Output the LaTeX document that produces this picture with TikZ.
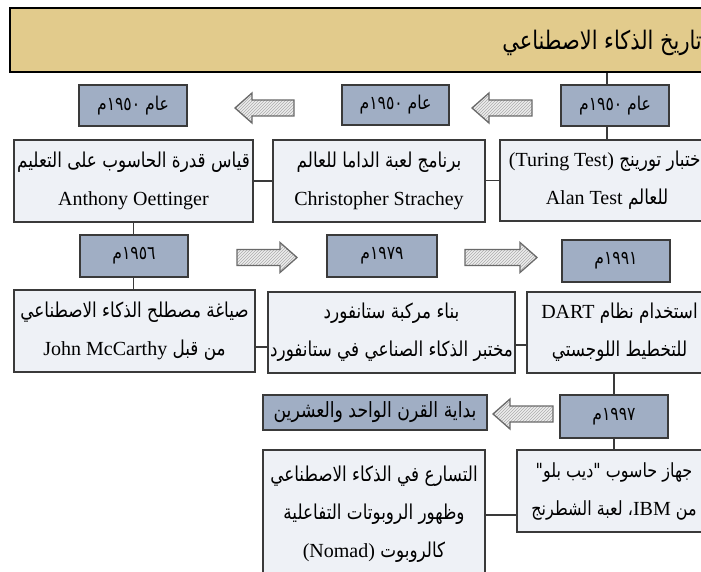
\documentclass[tikz,border=0pt]{standalone}
\usepackage{fontspec}
\setmainfont{Liberation Serif}
\newfontfamily\arfont[Script=Arabic, FakeStretch=0.82]{DejaVu Sans}
\TeXXeTstate=1
\usetikzlibrary{patterns}
\definecolor{titlefill}{HTML}{E2CB8C}
\definecolor{yearfill}{HTML}{A0AEC4}
\definecolor{descfill}{HTML}{EEF1F6}
\definecolor{edge}{HTML}{3A3A3A}
\definecolor{arrowedge}{HTML}{6A6A6A}
\newcommand\AR[1]{{\arfont\beginR #1\endR}}
\newcommand\LT[1]{{\rmfamily\fontsize{20}{38}\selectfont\beginL #1\endL}}
% left-pointing block arrow: tip x, tail x, centre y
\newcommand\blockL[3]{%
  \path[blockarrow] (#1,#3) -- ({#1+17},{#3-15}) -- ({#1+17},{#3-8}) -- (#2,{#3-8})
    -- (#2,{#3+8}) -- ({#1+17},{#3+8}) -- ({#1+17},{#3+15}) -- cycle;}
% right-pointing block arrow: tail x, tip x, centre y
\newcommand\blockR[3]{%
  \path[blockarrow] (#2,#3) -- ({#2-17},{#3-15}) -- ({#2-17},{#3-8}) -- (#1,{#3-8})
    -- (#1,{#3+8}) -- ({#2-17},{#3+8}) -- ({#2-17},{#3+15}) -- cycle;}
\tikzset{
  titlebar/.style={draw=black, line width=2.2pt, fill=titlefill},
  yearbox/.style={draw=edge, line width=1.4pt, fill=yearfill, inner sep=0pt,
    font=\fontsize{19}{22}\selectfont},
  descbox/.style={draw=edge, line width=1.4pt, fill=descfill, inner sep=0pt,
    align=center, font=\fontsize{20.5}{38}\selectfont},
  link/.style={draw=edge, line width=1.4pt},
  blockarrow/.style={draw=arrowedge, line width=1.3pt, line join=miter,
    preaction={fill=gray!14}, pattern=north east lines, pattern color=gray!65}
}
\begin{document}
\begin{tikzpicture}[x=1pt,y=-1pt]
\useasboundingbox (0,0) rectangle (701,572);
\clip (0,0) rectangle (701,572);
% title
\node[titlebar, minimum width=715pt, minimum height=64pt, inner sep=0pt] (title) at (367.5,40) {};
\node[anchor=east, inner sep=0pt, font=\fontsize{25.5}{28}\selectfont] (titletext) at (702,43) {\AR{تاريخ الذكاء الاصطناعي}};
% row 1 years
\node[yearbox, minimum width=108pt, minimum height=41pt] (a1) at (133,105.5) {\AR{عام ١٩٥٠م}};
\node[yearbox, minimum width=107pt, minimum height=40pt] (a2) at (395.5,105) {\AR{عام ١٩٥٠م}};
\node[yearbox, minimum width=108pt, minimum height=41pt] (a3) at (615,105.5) {\AR{عام ١٩٥٠م}};
\blockL{235}{294}{108}
\blockL{472}{532}{108}
% row 1 descriptions
\node[descbox, minimum width=239pt, minimum height=82pt] (b1) at (133.5,181)
  {\AR{قياس قدرة الحاسوب على التعليم}\\ \LT{Anthony Oettinger}};
\node[descbox, minimum width=212pt, minimum height=82pt] (b2) at (379,181)
  {\AR{برنامج  لعبة الداما للعالم}\\ \LT{Christopher Strachey}};
\node[descbox, minimum width=214pt, minimum height=81pt] (b3) at (607,180.5)
  {\AR{اختبار تورينج \LT{(Turing Test)}}\\ \AR{للعالم \LT{Alan Test}}};
% row 2 years
\node[yearbox, minimum width=108pt, minimum height=42pt] (c1) at (134,256) {\AR{١٩٥٦م}};
\node[yearbox, minimum width=110pt, minimum height=42pt] (c2) at (382,256) {\AR{١٩٧٩م}};
\node[yearbox, minimum width=108pt, minimum height=42pt] (c3) at (616,261) {\AR{١٩٩١م}};
\blockR{237}{297}{257.5}
\blockR{465}{537}{257.5}
% row 2 descriptions
\node[descbox, minimum width=241pt, minimum height=82pt] (d1) at (134.5,331)
  {\AR{صياغة مصطلح الذكاء الاصطناعي}\\ \AR{من قبل  \LT{John McCarthy}}};
\node[descbox, minimum width=247pt, minimum height=81pt] (d2) at (391.5,332.5)
  {\AR{بناء مركبة ستانفورد}\\ \AR{مختبر الذكاء الصناعي في ستانفورد}};
\node[descbox, minimum width=185pt, minimum height=81pt] (d3) at (619.5,332.5)
  {\AR{استخدام نظام \LT{DART}}\\ \AR{للتخطيط اللوجستي}};
% row 3
\node[yearbox, minimum width=224pt, minimum height=35pt, font=\fontsize{21}{24}\selectfont] (e1) at (375,412.5) {\AR{بداية القرن الواحد والعشرين}};
\node[yearbox, minimum width=108pt, minimum height=43pt] (e2) at (614,416.5) {\AR{١٩٩٧م}};
\blockL{493}{553}{414}
\node[descbox, minimum width=222pt, minimum height=128pt] (f1) at (374,514)
  {\AR{التسارع في الذكاء الاصطناعي}\\ \AR{وظهور الروبوتات التفاعلية}\\ \AR{كالروبوت \LT{(Nomad)}}};
\node[descbox, minimum width=194pt, minimum height=82pt, font=\fontsize{19.5}{38}\selectfont] (f2) at (614,491)
  {\AR{جهاز حاسوب "ديب بلو"}\\ \AR{من \LT{IBM}، لعبة الشطرنج}};
% connectors
\coordinate (k1) at (607,0);
\coordinate (k2) at (0,347);
\coordinate (k3) at (0,345);
\coordinate (k4) at (0,515);
\draw[link] (title.south -| k1) -- (a3.north -| k1);
\draw[link] (a3.south -| k1) -- (b3.north -| k1);
\draw[link] (b3.west) -- (b2.east |- b3.west);
\draw[link] (b2.west) -- (b1.east |- b2.west);
\draw[link] (b1.south) -- (b1.south |- c1.north);
\draw[link] (c1.south -| b1.south) -- (d1.north -| b1.south);
\draw[link] (d1.east |- k2) -- (d2.west |- k2);
\draw[link] (d2.east |- k3) -- (d3.west |- k3);
\draw[link] (e2.north) -- (e2.north |- d3.south);
\draw[link] (e2.south) -- (e2.south |- f2.north);
\draw[link] (f2.west |- k4) -- (f1.east |- k4);
\end{tikzpicture}
\end{document}
